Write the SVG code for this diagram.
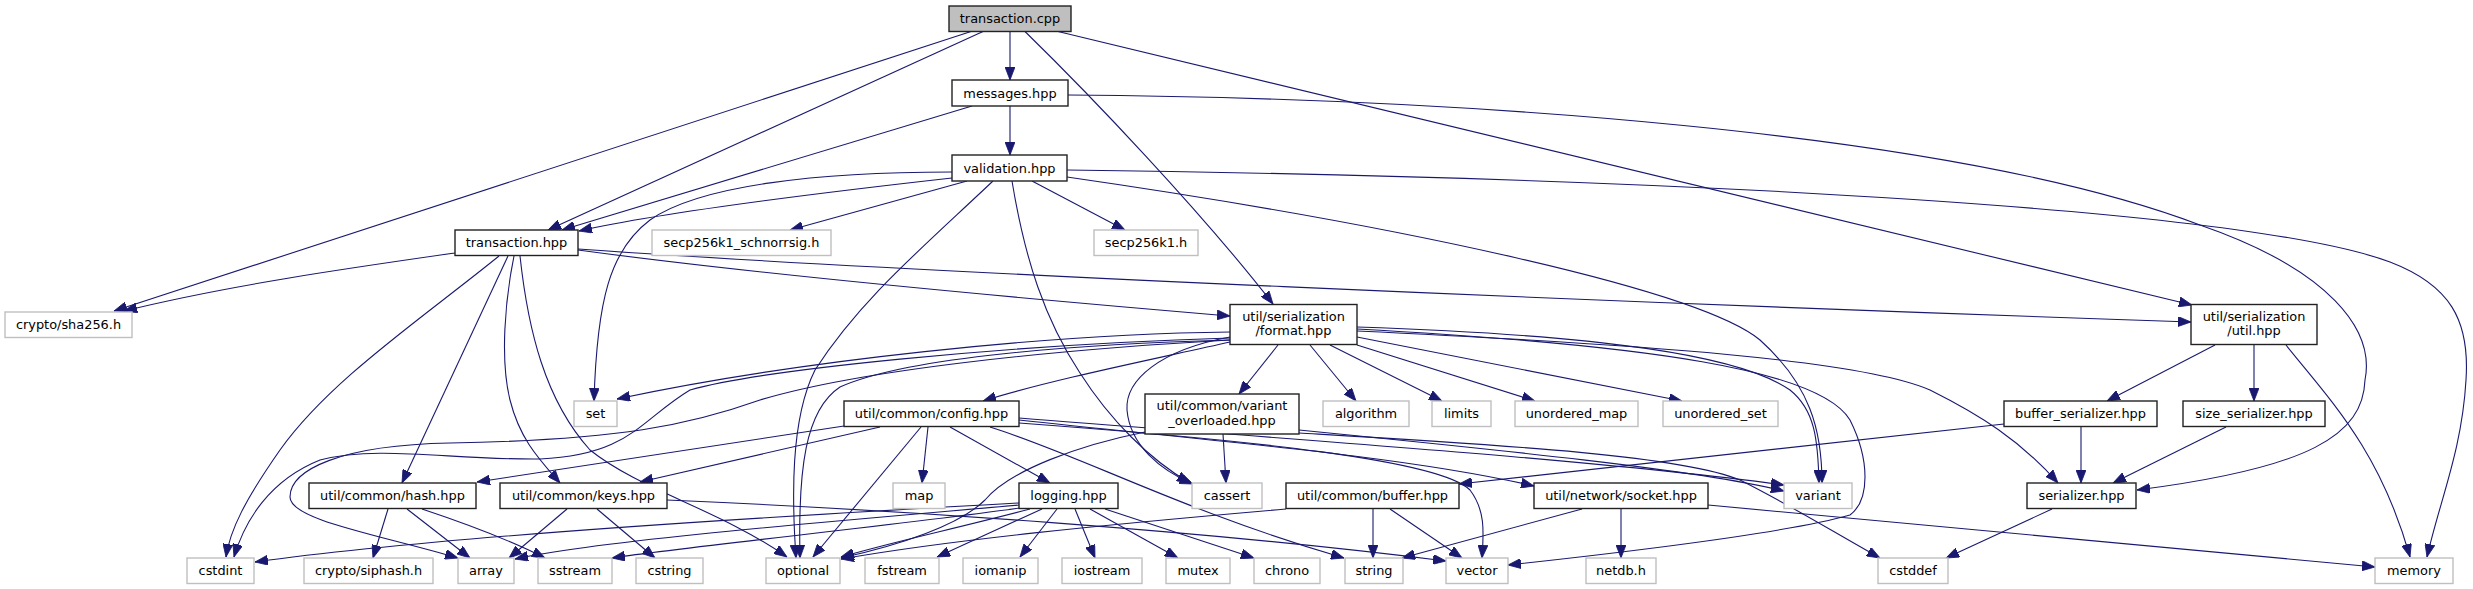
<svg xmlns="http://www.w3.org/2000/svg" width="2473" height="589" viewBox="0 0 2473 589">
<style>
text{font-family:"DejaVu Sans","Liberation Sans",sans-serif;font-size:12.9px;text-anchor:middle;fill:#000}
.n rect{fill:#fff;stroke:#222;stroke-width:1.4}
.x rect{fill:#fff;stroke:#bfbfbf;stroke-width:1.4}
.r rect{fill:#bfbfbf;stroke:#222;stroke-width:1.4}
#edges path{fill:none;stroke:#191970;stroke-width:1.1;marker-end:url(#a)}
</style>
<defs>
<marker id="a" viewBox="0 0 13 10" refX="13" refY="5" markerWidth="13" markerHeight="10" markerUnits="userSpaceOnUse" orient="auto"><path d="M0,0 L13,5 L0,10 z" fill="#191970" stroke="#191970" stroke-width="0.8"/></marker>
</defs>
<rect width="2473" height="589" fill="#fff"/>
<g id="edges">
<path d="M1010,31.5 L1010,80"/>
<path d="M983,31.5 L548,230"/>
<path d="M971,31.5 L114,311"/>
<path d="M1025,31.5 C1090,95 1200,210 1273,304"/>
<path d="M1058,31.5 L2192,305"/>
<path d="M1010,106 L1010,155"/>
<path d="M972,106 L562,230"/>
<path d="M1068,95 C1450,98 1950,130 2200,225 C2330,270 2375,330 2365,380 C2363,435 2310,468 2137,490"/>
<path d="M952,178 C800,195 650,215 579,231"/>
<path d="M967,181 L790,230"/>
<path d="M1032,181 L1125,230"/>
<path d="M952,172 C820,172 700,185 650,220 C610,250 597,300 594,401"/>
<path d="M993,181 C920,250 860,300 815,370 C790,420 792,500 796,558"/>
<path d="M1012,181 C1025,260 1045,320 1080,373 C1110,420 1150,460 1190,483"/>
<path d="M1067,177 C1400,225 1700,290 1760,340 C1810,385 1822,430 1822,483"/>
<path d="M1067,170 C1700,178 2250,210 2390,262 C2450,285 2470,320 2466,380 C2462,450 2440,500 2427,557"/>
<path d="M455,253 C350,268 230,285 124,311"/>
<path d="M499,256 C420,320 330,380 280,450 C245,500 230,530 226,557"/>
<path d="M508,256 L402,483"/>
<path d="M514,256 C505,300 500,360 510,400 C520,440 540,460 560,483"/>
<path d="M520,256 C528,330 545,400 590,450 C640,490 720,510 787,557"/>
<path d="M578,250 C800,280 1100,305 1230,316"/>
<path d="M578,249 C900,272 1600,302 2191,322"/>
<path d="M1278,345 L1239,394"/>
<path d="M1310,345 L1356,401"/>
<path d="M1330,345 L1442,401"/>
<path d="M1357,345 L1535,401"/>
<path d="M1357,337 L1682,401"/>
<path d="M1230,342 C1150,360 1050,380 983,401"/>
<path d="M1230,332 C1050,334 800,360 617,399"/>
<path d="M1230,340 C1050,350 860,370 760,400 C690,425 620,440 450,443 C340,445 290,470 290,497 C290,520 380,535 458,558"/>
<path d="M1230,338 C1000,345 760,370 690,390 C640,420 630,455 540,459 C450,460 380,445 320,460 C270,480 245,520 234,557"/>
<path d="M1230,340 C1050,345 900,360 840,387 C805,410 798,470 800,558"/>
<path d="M1230,337 C1160,350 1125,380 1127,410 C1130,445 1160,470 1193,484"/>
<path d="M1357,327 C1600,335 1740,355 1790,390 C1815,410 1818,440 1819,483"/>
<path d="M1357,329 C1650,345 1820,370 1850,420 C1870,460 1870,500 1850,515 C1780,535 1600,555 1508,565"/>
<path d="M1357,331 C1650,345 1860,360 1930,390 C1980,415 2020,440 2058,483"/>
<path d="M844,426 L477,482"/>
<path d="M880,427 L640,482"/>
<path d="M928,427 L922,483"/>
<path d="M921,427 L813,557"/>
<path d="M950,427 L1050,483"/>
<path d="M990,427 C1080,455 1180,510 1344,558"/>
<path d="M1019,420 C1200,440 1400,455 1534,486"/>
<path d="M1019,418 C1300,440 1600,460 1784,485"/>
<path d="M1019,423 C1250,440 1440,460 1470,490 C1485,510 1484,530 1482,558"/>
<path d="M1223,434 L1226,483"/>
<path d="M1299,430 C1500,450 1700,470 1784,491"/>
<path d="M1299,433 C1500,445 1680,455 1740,480 C1790,505 1830,530 1880,558"/>
<path d="M1145,432 C1080,445 1010,470 985,500 C960,525 900,545 841,558"/>
<path d="M1019,503 C800,515 450,535 255,562"/>
<path d="M1019,505 C850,520 600,540 515,559"/>
<path d="M1020,508 C900,525 700,545 612,558"/>
<path d="M1030,509 C950,530 900,540 841,557"/>
<path d="M1042,509 L937,557"/>
<path d="M1057,509 L1020,557"/>
<path d="M1075,509 L1095,558"/>
<path d="M1090,509 L1178,558"/>
<path d="M1105,509 L1254,558"/>
<path d="M388,509 L373,558"/>
<path d="M407,509 L470,558"/>
<path d="M422,509 C470,525 510,540 545,558"/>
<path d="M567,509 L509,558"/>
<path d="M597,509 L655,558"/>
<path d="M667,500 C900,510 1200,530 1446,561"/>
<path d="M1286,509 C1100,525 950,540 841,559"/>
<path d="M1373,509 L1373,558"/>
<path d="M1390,509 L1462,558"/>
<path d="M1582,509 L1402,558"/>
<path d="M1621,509 L1621,558"/>
<path d="M1708,505 L2375,567"/>
<path d="M2052,509 L1946,558"/>
<path d="M2081,427 L2081,483"/>
<path d="M2004,424 L1459,484"/>
<path d="M2226,427 L2113,483"/>
<path d="M2215,345 L2107,401"/>
<path d="M2254,345 L2254,401"/>
<path d="M2286,345 C2330,400 2380,450 2410,557"/>
</g>
<g id="n_tcpp" class="r"><rect x="949" y="6" width="122" height="25.5"/><text x="1010" y="23">transaction.cpp</text></g>
<g id="n_messages" class="n"><rect x="952" y="80" width="116" height="26"/><text x="1010" y="97.5">messages.hpp</text></g>
<g id="n_validation" class="n"><rect x="952" y="155" width="115" height="26"/><text x="1009.5" y="172.5">validation.hpp</text></g>
<g id="n_thpp" class="n"><rect x="455" y="230" width="123" height="25.5"/><text x="516.5" y="247">transaction.hpp</text></g>
<g id="n_schnorr" class="x"><rect x="652" y="230" width="179" height="25.5"/><text x="741.5" y="247">secp256k1_schnorrsig.h</text></g>
<g id="n_secp" class="x"><rect x="1094" y="230" width="104" height="25.5"/><text x="1146" y="247">secp256k1.h</text></g>
<g id="n_format" class="n"><rect x="1230" y="304.5" width="127" height="40"/><text x="1293.5" y="320.5">util/serialization</text><text x="1293.5" y="335">/format.hpp</text></g>
<g id="n_util" class="n"><rect x="2191" y="304.5" width="126" height="40"/><text x="2254" y="320.5">util/serialization</text><text x="2254" y="335">/util.hpp</text></g>
<g id="n_sha" class="x"><rect x="5" y="312" width="127" height="25.5"/><text x="68.5" y="329">crypto/sha256.h</text></g>
<g id="n_set" class="x"><rect x="574" y="401" width="43" height="25.5"/><text x="595.5" y="418">set</text></g>
<g id="n_config" class="n"><rect x="844" y="401" width="175" height="25.5"/><text x="931.5" y="418">util/common/config.hpp</text></g>
<g id="n_vo" class="n"><rect x="1145" y="394" width="154" height="40"/><text x="1222" y="410">util/common/variant</text><text x="1222" y="424.5">_overloaded.hpp</text></g>
<g id="n_algorithm" class="x"><rect x="1323" y="401" width="86" height="25.5"/><text x="1366" y="418">algorithm</text></g>
<g id="n_limits" class="x"><rect x="1432" y="401" width="59" height="25.5"/><text x="1461.5" y="418">limits</text></g>
<g id="n_umap" class="x"><rect x="1515" y="401" width="123" height="25.5"/><text x="1576.5" y="418">unordered_map</text></g>
<g id="n_uset" class="x"><rect x="1663" y="401" width="115" height="25.5"/><text x="1720.5" y="418">unordered_set</text></g>
<g id="n_bser" class="n"><rect x="2004" y="401" width="153" height="25.5"/><text x="2080.5" y="418">buffer_serializer.hpp</text></g>
<g id="n_sser" class="n"><rect x="2183" y="401" width="142" height="25.5"/><text x="2254" y="418">size_serializer.hpp</text></g>
<g id="n_hash" class="n"><rect x="309" y="483" width="167" height="25.5"/><text x="392.5" y="500">util/common/hash.hpp</text></g>
<g id="n_keys" class="n"><rect x="500" y="483" width="167" height="25.5"/><text x="583.5" y="500">util/common/keys.hpp</text></g>
<g id="n_map" class="x"><rect x="893" y="483" width="52" height="25.5"/><text x="919" y="500">map</text></g>
<g id="n_logging" class="n"><rect x="1019" y="483" width="99" height="25.5"/><text x="1068.5" y="500">logging.hpp</text></g>
<g id="n_cassert" class="x"><rect x="1192" y="483" width="70" height="25.5"/><text x="1227" y="500">cassert</text></g>
<g id="n_buffer" class="n"><rect x="1286" y="483" width="173" height="25.5"/><text x="1372.5" y="500">util/common/buffer.hpp</text></g>
<g id="n_socket" class="n"><rect x="1534" y="483" width="174" height="25.5"/><text x="1621" y="500">util/network/socket.hpp</text></g>
<g id="n_variant" class="x"><rect x="1784" y="483" width="68" height="25.5"/><text x="1818" y="500">variant</text></g>
<g id="n_serializer" class="n"><rect x="2027" y="483" width="109" height="25.5"/><text x="2081.5" y="500">serializer.hpp</text></g>
<g id="n_cstdint" class="x"><rect x="187" y="558" width="67" height="25.5"/><text x="220.5" y="575">cstdint</text></g>
<g id="n_siphash" class="x"><rect x="304" y="558" width="129" height="25.5"/><text x="368.5" y="575">crypto/siphash.h</text></g>
<g id="n_array" class="x"><rect x="458" y="558" width="56" height="25.5"/><text x="486" y="575">array</text></g>
<g id="n_sstream" class="x"><rect x="538" y="558" width="74" height="25.5"/><text x="575" y="575">sstream</text></g>
<g id="n_cstring" class="x"><rect x="636" y="558" width="67" height="25.5"/><text x="669.5" y="575">cstring</text></g>
<g id="n_optional" class="x"><rect x="766" y="558" width="74" height="25.5"/><text x="803" y="575">optional</text></g>
<g id="n_fstream" class="x"><rect x="865" y="558" width="74" height="25.5"/><text x="902" y="575">fstream</text></g>
<g id="n_iomanip" class="x"><rect x="963" y="558" width="75" height="25.5"/><text x="1000.5" y="575">iomanip</text></g>
<g id="n_iostream" class="x"><rect x="1062" y="558" width="80" height="25.5"/><text x="1102" y="575">iostream</text></g>
<g id="n_mutex" class="x"><rect x="1166" y="558" width="64" height="25.5"/><text x="1198" y="575">mutex</text></g>
<g id="n_chrono" class="x"><rect x="1254" y="558" width="66" height="25.5"/><text x="1287" y="575">chrono</text></g>
<g id="n_string" class="x"><rect x="1345" y="558" width="58" height="25.5"/><text x="1374" y="575">string</text></g>
<g id="n_vector" class="x"><rect x="1446" y="558" width="62" height="25.5"/><text x="1477" y="575">vector</text></g>
<g id="n_netdb" class="x"><rect x="1586" y="558" width="70" height="25.5"/><text x="1621" y="575">netdb.h</text></g>
<g id="n_cstddef" class="x"><rect x="1878" y="558" width="70" height="25.5"/><text x="1913" y="575">cstddef</text></g>
<g id="n_memory" class="x"><rect x="2375" y="558" width="78" height="25.5"/><text x="2414" y="575">memory</text></g>
</svg>
